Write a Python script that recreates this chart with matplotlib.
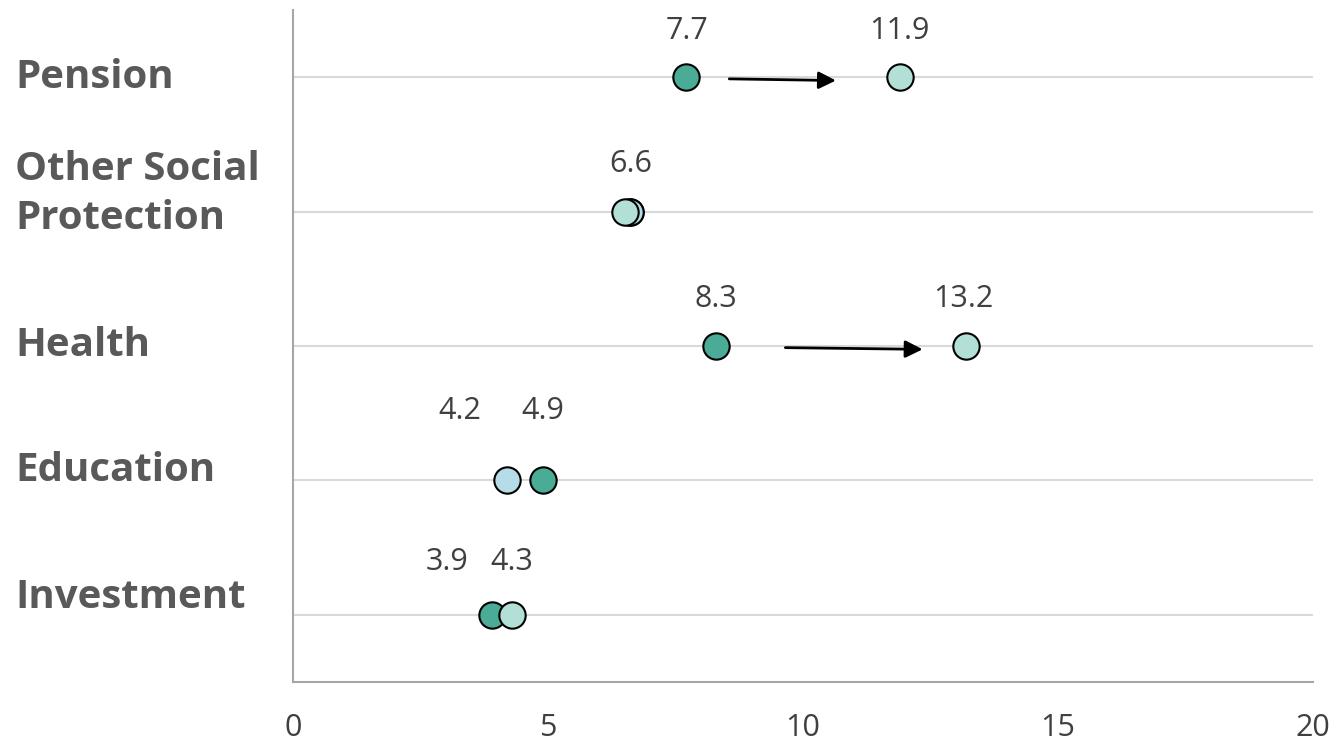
import matplotlib
matplotlib.use("Agg")
import matplotlib.pyplot as plt
from matplotlib.transforms import blended_transform_factory

# Spending categories, bottom to top
categories = ["Investment", "Education", "Health", "Other Social\nProtection", "Pension"]

# Current share (dark green), projected share (mint), reduced share (light blue)
current = [3.9, 4.9, 8.3, 6.6, 7.7]
projected = [4.3, None, 13.2, 6.5, 11.9]
reduced = [None, 4.2, None, 6.6, None]

# Values printed above the markers: (category index, value)
value_labels = [(0, 3.9), (0, 4.3), (1, 4.2), (1, 4.9), (2, 8.3), (2, 13.2),
                (3, 6.6), (4, 7.7), (4, 11.9)]

# Arrows showing large increases: (category index, from x, to x)
arrows = [(4, 8.5, 10.7), (2, 9.6, 12.4)]

x_ticks = [0, 5, 10, 15, 20]

DARK = "#4aab96"
MINT = "#b3e0d6"
LBLUE = "#b5dce7"
TXT = "#404040"
CAT = "#595959"

plt.rcParams["font.family"] = ["Open Sans", "DejaVu Sans"]

fig = plt.figure(figsize=(13.34, 7.47), dpi=100)
ax = fig.add_axes([293 / 1334, 1 - 682 / 747, (1313 - 293) / 1334, (682 - 10) / 747])

ax.set_xlim(0, 20)
ax.set_ylim(-0.5, 4.5)

for i in range(len(categories)):
    ax.axhline(i, color="#d9d9d9", lw=1.5, zorder=1)

ms = 360
def draw(series, color, z):
    xs = [v for v in series if v is not None]
    ys = [i for i, v in enumerate(series) if v is not None]
    ax.scatter(xs, ys, s=ms, c=color, edgecolors="black", linewidths=1.5, zorder=z)

draw(current, DARK, 3)
draw(reduced, LBLUE, 4)
draw(projected, MINT, 5)

# label placement (pixel offsets from the marker centre)
label_offsets = [(-45, 53), (0, 53), (-47, 69), (0, 69), (0, 47), (-3, 47),
                 (1, 48), (1, 46), (-1, 46)]
for (i, v), (dx, dy) in zip(value_labels, label_offsets):
    ax.annotate(f"{v:g}", xy=(v, i), xytext=(dx, dy), textcoords="offset pixels",
                ha="center", va="center", fontsize=22, color=TXT)

for i, x0, x1 in arrows:
    ax.annotate("", xy=(x1, i - 0.025), xytext=(x0, i - 0.012),
                arrowprops=dict(arrowstyle="-|>", color="black", lw=2,
                                mutation_scale=26), zorder=2)

ax.set_xticks(x_ticks)
ax.set_xticklabels([str(t) for t in x_ticks])
ax.tick_params(axis="x", length=0, pad=22, labelsize=22, labelcolor=TXT)
ax.set_yticks([])

for s in ["top", "right"]:
    ax.spines[s].set_visible(False)
for s in ["left", "bottom"]:
    ax.spines[s].set_color("#a6a6a6")
    ax.spines[s].set_linewidth(1.5)

# Category names, left aligned in the margin
trans = blended_transform_factory(fig.transFigure, ax.transData)
label_shift = [0.13, 0.07, 0.0, 0.13, 0.0]
for i, name in enumerate(categories):
    fig.text(15 / 1334, i + label_shift[i], name, transform=trans, ha="left", va="center",
             fontsize=29, fontweight="bold", color=CAT, linespacing=1.35)

fig.savefig("out.png", dpi=100)
